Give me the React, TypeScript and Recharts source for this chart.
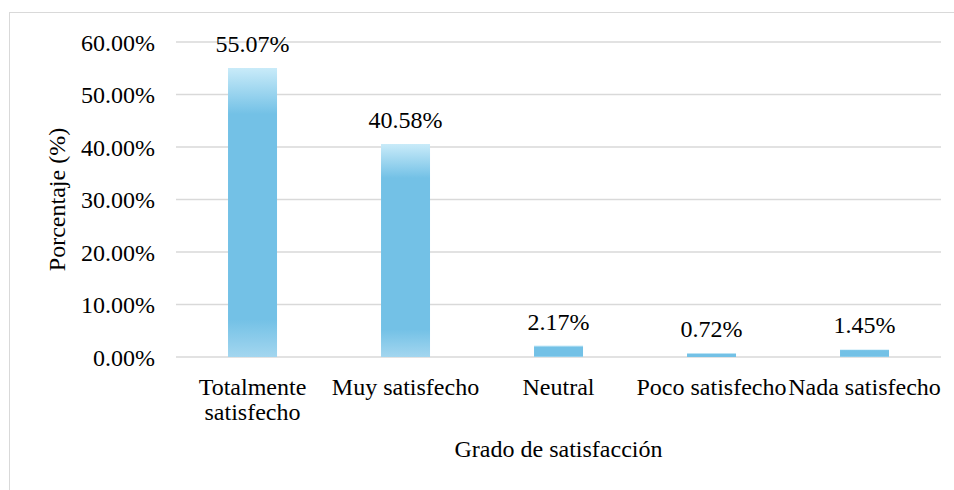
import React from "react";
import { BarChart, Bar, XAxis, YAxis, CartesianGrid, LabelList, Label } from "recharts";

const categories = ["Totalmente satisfecho", "Muy satisfecho", "Neutral", "Poco satisfecho", "Nada satisfecho"];
const categoryLines = [["Totalmente", "satisfecho"], ["Muy satisfecho"], ["Neutral"], ["Poco satisfecho"], ["Nada satisfecho"]];
const values = [55.07, 40.58, 2.17, 0.72, 1.45];
const yTicks = [0, 10, 20, 30, 40, 50, 60];
const boundaryTicks = [0, 1, 2, 3, 4, 5];

const data = categories.map((c, i) => ({ name: c, value: values[i], idx: i }));

const FONT = "Liberation Serif, Times New Roman, Times, DejaVu Serif, serif";
const GRID = "#d9d9d9";

const CatTick = (props: any) => {
  const { x, y, index } = props;
  const lines = categoryLines[index] || [props.payload.value];
  return (
    <g>
      {lines.map((l: string, i: number) => (
        <text key={i} x={x} y={y + 38 + i * 25} textAnchor="middle" style={{ fontFamily: FONT }} fontSize={24} fill="#000">
          {l}
        </text>
      ))}
    </g>
  );
};

export default function App() {
  return (
    <div style={{ position: "fixed", left: 0, top: 0, width: 954, height: 490, overflow: "hidden", background: "#fff", fontFamily: FONT }}>
      <div
        style={{
          position: "absolute",
          left: 9,
          top: 12,
          width: 1000,
          height: 520,
          border: `1.5px solid ${GRID}`,
          boxSizing: "border-box",
        }}
      />
      <div style={{ position: "absolute", left: 0, top: 0 }}>
        <BarChart width={954} height={490} data={data} margin={{ top: 42, right: 13, bottom: 0, left: 0 }} barCategoryGap="34%" style={{ fontFamily: FONT }}>
          <defs>
            <linearGradient id="barGrad" x1="0" y1="0" x2="0" y2="1">
              <stop offset="0" stopColor="#c9ebf9" />
              <stop offset="0.16" stopColor="#73c1e6" />
              <stop offset="0.87" stopColor="#73c1e6" />
              <stop offset="1" stopColor="#a3d6ef" />
            </linearGradient>
          </defs>
          <CartesianGrid horizontal vertical={false} stroke={GRID} strokeWidth={1.5} />
          <XAxis
            xAxisId="grid"
            type="number"
            domain={[0, 5]}
            ticks={boundaryTicks}
            height={0}
            tick={false}
            tickSize={7}
            axisLine={{ stroke: GRID, strokeWidth: 1.5 }}
            tickLine={{ stroke: GRID, strokeWidth: 1.5 }}
          />
          <XAxis
            xAxisId="cat"
            dataKey="name"
            height={133}
            axisLine={false}
            tickLine={false}
            tickSize={0}
            tickMargin={0}
            interval={0}
            tick={<CatTick />}
          >
            <Label value="Grado de satisfacción" position="insideBottom" offset={33} style={{ fontFamily: FONT, fontSize: 24, fill: "#000" }} />
          </XAxis>
          <YAxis
            width={176}
            domain={[0, 60]}
            ticks={yTicks}
            axisLine={false}
            tickLine={false}
            tickSize={0}
            tickMargin={21}
            tickFormatter={(v: number) => `${v.toFixed(2)}%`}
            tick={{ fontSize: 24, fill: "#000", style: { fontFamily: FONT } }}
          >
            <Label value="Porcentaje (%)" angle={-90} position="center" dx={-32} style={{ fontFamily: FONT, fontSize: 24, fill: "#000", textAnchor: "middle" }} />
          </YAxis>
          <Bar xAxisId="cat" dataKey="value" fill="url(#barGrad)" isAnimationActive={false}>
            <LabelList
              dataKey="value"
              position="top"
              offset={16}
              formatter={(v: any) => `${Number(v).toFixed(2)}%`}
              style={{ fontFamily: FONT, fontSize: 24, fill: "#000" }}
            />
          </Bar>
        </BarChart>
      </div>
    </div>
  );
}
